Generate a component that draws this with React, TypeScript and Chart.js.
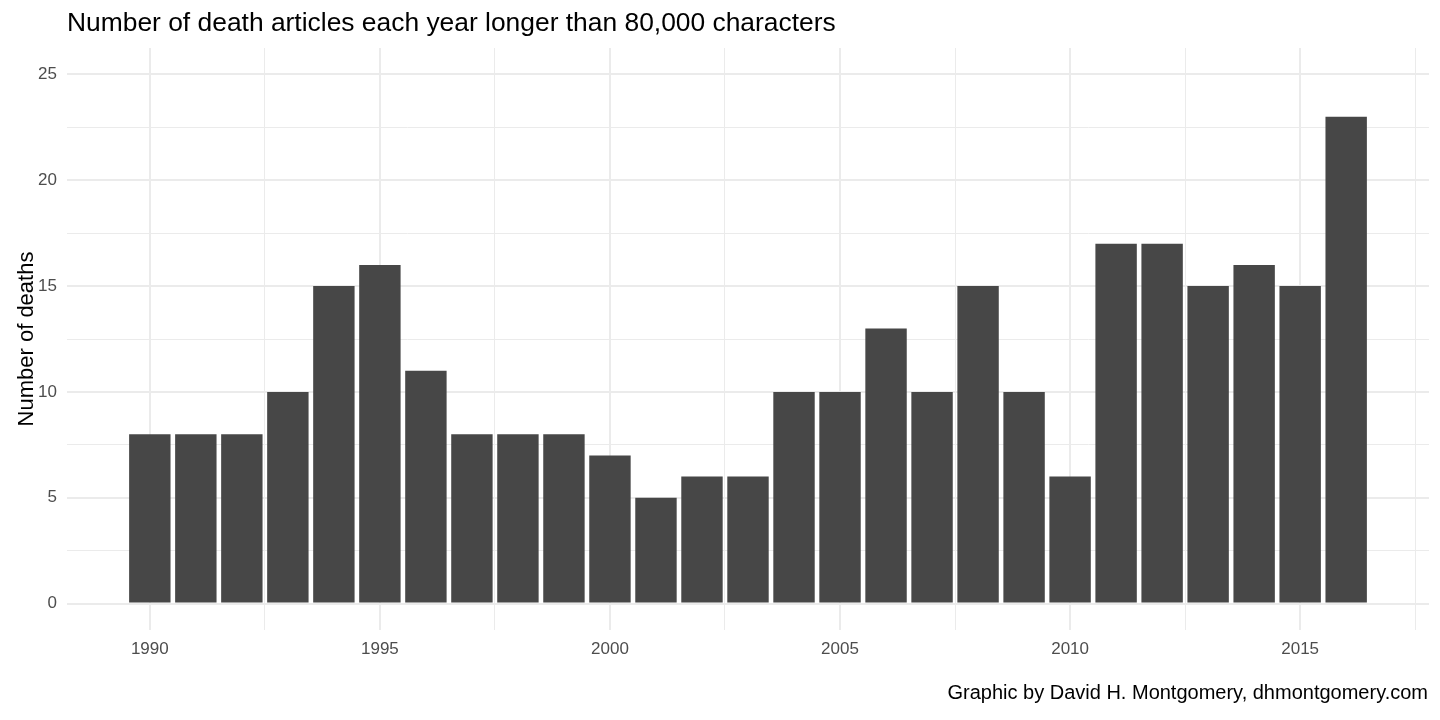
import React, { useEffect, useRef } from "react";
import { Chart, registerables } from "chart.js";

Chart.register(...registerables);

const years = [1990, 1991, 1992, 1993, 1994, 1995, 1996, 1997, 1998, 1999, 2000, 2001, 2002, 2003, 2004, 2005, 2006, 2007, 2008, 2009, 2010, 2011, 2012, 2013, 2014, 2015, 2016];
const deaths = [8, 8, 8, 10, 15, 16, 11, 8, 8, 8, 7, 5, 6, 6, 10, 10, 13, 10, 15, 10, 6, 17, 17, 15, 16, 15, 23];
const xTickValues = [1990, 1992.5, 1995, 1997.5, 2000, 2002.5, 2005, 2007.5, 2010, 2012.5, 2015, 2017.5];
const yTickValues = [0, 2.5, 5, 7.5, 10, 12.5, 15, 17.5, 20, 22.5, 25];

const TITLE = "Number of death articles each year longer than 80,000 characters";
const Y_TITLE = "Number of deaths";
const CAPTION = "Graphic by David H. Montgomery, dhmontgomery.com";
const FONT = '"Liberation Sans", Arial, Helvetica, sans-serif';

const isMajor = (v: any) => typeof v === "number" && Math.abs(v % 5) < 1e-9;
const gridWidth = (c: any) => (c && c.tick && isMajor(c.tick.value) ? 2 : 1);

const textPlugin = {
  id: "textPlugin",
  afterDraw(chart: any) {
    const ctx = chart.ctx;
    const area = chart.chartArea;
    ctx.save();
    ctx.fillStyle = "#000000";
    ctx.textBaseline = "alphabetic";
    ctx.font = `26.4px ${FONT}`;
    ctx.textAlign = "left";
    ctx.fillText(TITLE, area.left, 31);
    ctx.font = `20px ${FONT}`;
    ctx.textAlign = "right";
    ctx.fillText(CAPTION, 1428, 699);
    ctx.translate(33, (area.top + area.bottom) / 2);
    ctx.rotate(-Math.PI / 2);
    ctx.textAlign = "center";
    ctx.font = `22px ${FONT}`;
    ctx.fillText(Y_TITLE, 0, 0);
    ctx.restore();
  },
};

export default function App() {
  const ref = useRef<HTMLCanvasElement>(null);
  useEffect(() => {
    if (!ref.current) return;
    const chart = new Chart(ref.current, {
      type: "bar",
      data: {
        datasets: [
          {
            data: years.map((y, i) => ({ x: y, y: deaths[i] })),
            backgroundColor: "#474747",
            borderWidth: 0,
            barPercentage: 0.9,
            categoryPercentage: 1,
          },
        ],
      },
      options: {
        responsive: false,
        animation: false,
        layout: { padding: { top: 48, right: 11, bottom: 0, left: 0 } },
        plugins: { legend: { display: false }, tooltip: { enabled: false }, title: { display: false } },
        scales: {
          x: {
            type: "linear",
            min: 1988.2,
            max: 2017.8,
            offset: false,
            afterBuildTicks: (s: any) => {
              s.ticks = xTickValues.map((v) => ({ value: v }));
            },
            afterFit: (s: any) => {
              s.height = 90;
            },
            border: { display: false },
            grid: {
              offset: false,
              drawTicks: false,
              color: "#EBEBEB",
              lineWidth: gridWidth,
            },
            ticks: {
              autoSkip: false,
              maxRotation: 0,
              padding: 9,
              color: "#4D4D4D",
              font: { family: FONT, size: 17 },
              callback: (v: any) => (isMajor(Number(v)) ? String(v) : ""),
            },
          },
          y: {
            type: "linear",
            min: -1.25,
            max: 26.25,
            afterBuildTicks: (s: any) => {
              s.ticks = yTickValues.map((v) => ({ value: v }));
            },
            afterFit: (s: any) => {
              s.width = 67;
            },
            border: { display: false },
            grid: {
              drawTicks: false,
              color: "#EBEBEB",
              lineWidth: gridWidth,
            },
            ticks: {
              autoSkip: false,
              padding: 10,
              color: "#4D4D4D",
              font: { family: FONT, size: 17 },
              callback: (v: any) => (isMajor(Number(v)) ? String(v) : ""),
            },
          },
        },
      },
      plugins: [textPlugin],
    } as any);
    return () => chart.destroy();
  }, []);
  return (
    <div style={{ position: "absolute", left: 0, top: 0, width: 1440, height: 720, background: "#fff" }}>
      <canvas ref={ref} width={1440} height={720} style={{ display: "block" }} />
    </div>
  );
}
